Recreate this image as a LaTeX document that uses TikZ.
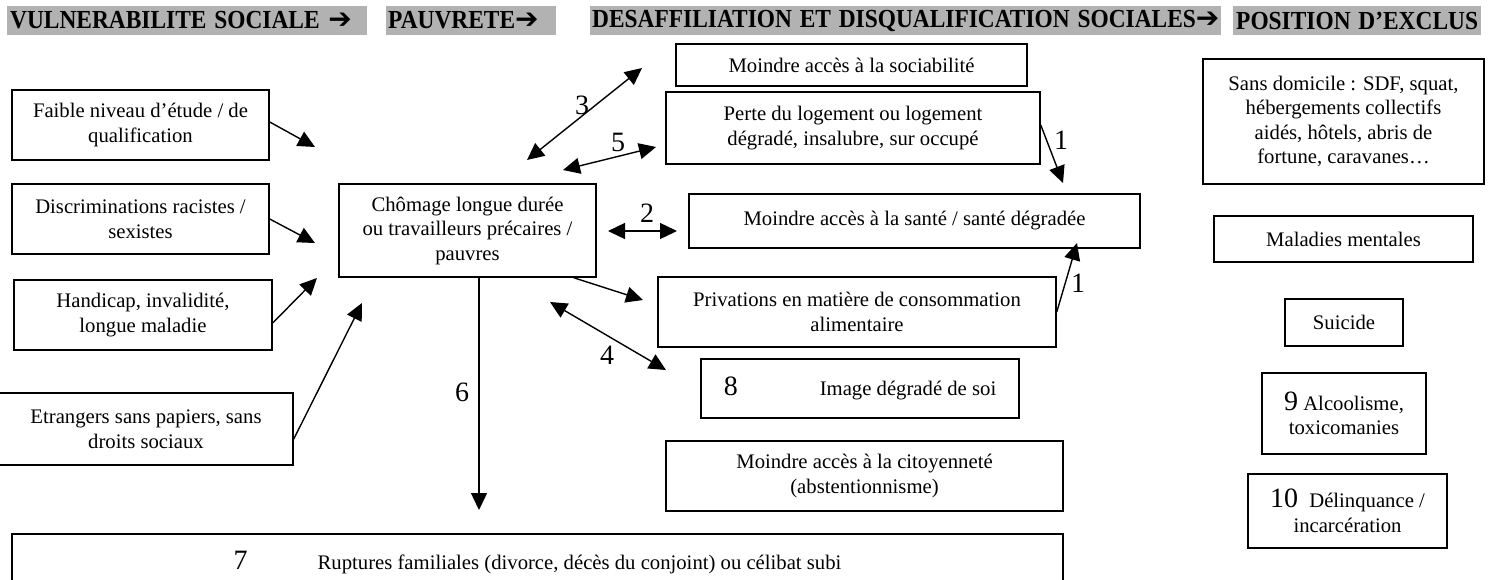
\documentclass[tikz,border=0pt]{standalone}
\usepackage{fontspec}
\usepackage{graphicx}
\setmainfont{Liberation Serif}
\newfontfamily\symfont{DejaVu Sans}
\usetikzlibrary{arrows.meta}
\definecolor{hdrgray}{RGB}{178,178,178}
\newcommand{\bignum}[1]{{\fontsize{28}{30}\selectfont #1}}
\newcommand{\hdrarrow}{{\symfont\bfseries\fontsize{28}{28}\selectfont ➔}}
\newcommand{\hdrtext}[1]{\scalebox{0.9}[1]{#1}}
\tikzset{
  box/.style={draw=black, line width=1.5pt, align=center, inner sep=0pt,
    font=\fontsize{20.7}{24.5}\selectfont},
  hdr/.style={fill=hdrgray, inner ysep=0pt, inner xsep=3pt, anchor=west, align=left,
    minimum height=29pt, font=\fontsize{26}{28}\selectfont\bfseries},
  arr/.style={line width=1.4pt, -{Triangle[length=17pt,width=16pt]}},
  darr/.style={line width=1.4pt, {Triangle[length=17pt,width=16pt]}-{Triangle[length=17pt,width=16pt]}},
  num/.style={font=\fontsize{28}{30}\selectfont, inner sep=0pt},
}
\begin{document}
\begin{tikzpicture}[x=1pt,y=-1pt]
\useasboundingbox (0,0) rectangle (1495,579);

% headers
\node[hdr, text width=354pt] (h1) at (7,20.5) {\hdrtext{VULNERABILITE SOCIALE}\ \hdrarrow};
\node[hdr, text width=166pt, inner xsep=2pt] (h2) at (386,20.5) {\hdrtext{PAUVRETE}\hdrarrow};
\node[hdr, text width=627pt, inner xsep=2pt] (h3) at (590,20.5) {\hdrtext{DESAFFILIATION ET DISQUALIFICATION SOCIALES}\hdrarrow};
\node[hdr, text width=242pt] (h4) at (1233,20.5) {\hdrtext{POSITION D’EXCLUS}};

% left column
\node[box, minimum width=257pt, minimum height=70pt] (faible) at (140.5,125) {Faible niveau d’étude / de\\qualification};
\node[box, minimum width=257pt, minimum height=70pt] (discrim) at (140.5,219) {Discriminations racistes /\\sexistes};
\node[box, minimum width=258pt, minimum height=70pt] (handi) at (143,315) {Handicap, invalidité,\\longue maladie};
\node[box, minimum width=294pt, minimum height=72pt] (etr) at (146,429) {Etrangers sans papiers, sans\\droits sociaux};

% centre
\node[box, minimum width=257pt, minimum height=93pt] (chom) at (467.5,230.5) {Chômage longue durée\\ou travailleurs précaires /\\pauvres};

% middle column
\node[box, minimum width=351pt, minimum height=42pt] (sociab) at (851.5,65) {Moindre accès à la sociabilité};
\node[box, minimum width=374pt, minimum height=72pt] (perte) at (853,128) {Perte du logement ou logement\\dégradé, insalubre, sur occupé};
\node[box, minimum width=451pt, minimum height=54pt] (sante) at (914.5,221) {Moindre accès à la santé / santé dégradée};
\node[box, minimum width=398pt, minimum height=70pt] (priv) at (857,312) {Privations en matière de consommation\\alimentaire};
\node[box, minimum width=318pt, minimum height=59pt] (image) at (860,388.5) {\bignum{8}\hspace{82pt}Image dégradé de soi};
\node[box, minimum width=397pt, minimum height=70pt] (citoy) at (864.5,476) {Moindre accès à la citoyenneté\\(abstentionnisme)};
\node[box, minimum width=1051pt, minimum height=58pt] (rupt) at (537.5,563) {\bignum{7}\hspace{70pt}Ruptures familiales (divorce, décès du conjoint) ou célibat subi};

% right column
\node[box, minimum width=281pt, minimum height=125pt] (sdf) at (1343.5,121.5) {Sans domicile : SDF, squat,\\hébergements collectifs\\aidés, hôtels, abris de\\fortune, caravanes…};
\node[box, minimum width=259pt, minimum height=46pt] (mental) at (1343.5,239) {Maladies mentales};
\node[box, minimum width=118pt, minimum height=47pt] (suicide) at (1344,322.5) {Suicide};
\node[box, minimum width=164pt, minimum height=81pt] (alcool) at (1344,413.5) {\bignum{9} Alcoolisme,\\toxicomanies};
\node[box, minimum width=199pt, minimum height=74pt] (delin) at (1347.5,511) {\bignum{10}\hspace{6pt} Délinquance /\\incarcération};

% free ends of connectors
\coordinate (tf) at (315,147);
\coordinate (td) at (315,243);
\coordinate (th) at (317,278);
\coordinate (te) at (362,303);
\coordinate (a3s) at (527,160);
\coordinate (a3e) at (642,68);
\coordinate (a5s) at (563,170);
\coordinate (a5e) at (656,147);
\coordinate (a2s) at (608,231);
\coordinate (a2e) at (677,231);
\coordinate (a4s) at (550,302);
\coordinate (a4e) at (666,370);
\coordinate (tp) at (643,300);
\coordinate (t6) at (479,510);
\coordinate (t1a) at (1063,183);
\coordinate (t1b) at (1077,243);

% connectors
\draw[arr] ([yshift=3pt]faible.east) -- (tf);
\draw[arr] (discrim.east) -- (td);
\draw[arr] ([yshift=-8pt]handi.east) -- (th);
\draw[arr] ([yshift=-10pt]etr.east) -- (te);
\draw[darr] (a3s) -- (a3e);
\draw[darr] (a5s) -- (a5e);
\draw[darr] (a2s) -- (a2e);
\draw[darr] (a4s) -- (a4e);
\draw[arr] ([xshift=-23pt]chom.south east) -- (tp);
\draw[arr] ([xshift=11.5pt]chom.south) -- (t6);
\draw[arr] ([yshift=3pt]perte.east) -- (t1a);
\draw[arr] (priv.east) -- (t1b);

% labels
\node[num] (l3) at (582,105) {3};
\node[num] (l5) at (618,142) {5};
\node[num] (l2) at (647,213) {2};
\node[num] (l4) at (607,355) {4};
\node[num] (l6) at (462,392) {6};
\node[num] (l1a) at (1061,140) {1};
\node[num] (l1b) at (1078,283) {1};
\end{tikzpicture}
\end{document}
